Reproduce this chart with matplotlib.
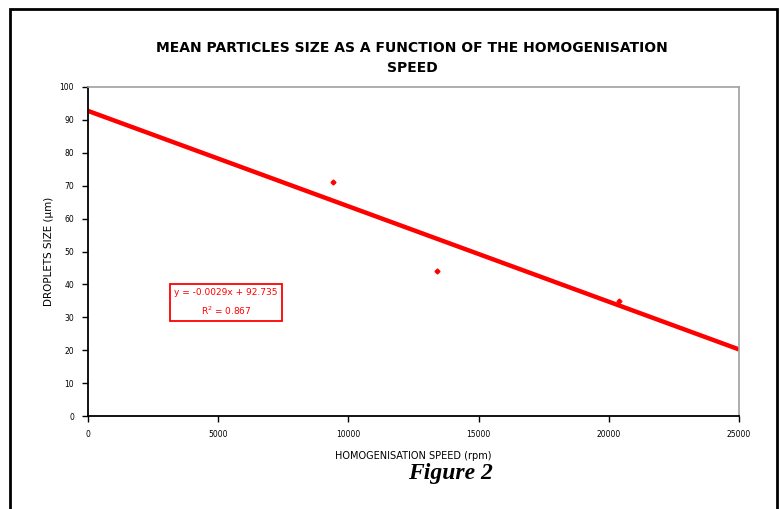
import matplotlib.pyplot as plt
from matplotlib.patches import Rectangle

# measured points (speed in rpm, droplet size in um)
speed = [9400, 13400, 20400]
droplet_size = [71.0, 44.0, 35.0]

# excel trendline as printed on the chart
slope = -0.0029
intercept = 92.735
r_squared = 0.867

x_ticks = [0, 5000, 10000, 15000, 20000, 25000]
y_ticks = [0, 10, 20, 30, 40, 50, 60, 70, 80, 90, 100]

fig = plt.figure(figsize=(7.8, 5.09), dpi=100)
ax = fig.add_axes([88 / 780, 1 - 416 / 509, (739 - 88) / 780, (416 - 87) / 509])

# trendline
trend_x = [x_ticks[0], x_ticks[-1]]
trend_y = [slope * v + intercept for v in trend_x]
ax.plot(trend_x, trend_y, color='red', linewidth=3.2, solid_capstyle='butt', zorder=2)
ax.plot(speed, droplet_size, linestyle='none', marker='D', markersize=2.5,
        color='red', zorder=3)

ax.set_xlim(0, 25000)
ax.set_ylim(0, 100)
ax.set_xticks(x_ticks)
ax.set_yticks(y_ticks)
ax.tick_params(direction='out', length=4, width=1, labelsize=5.5, pad=6)
for side in ['top', 'right']:
    ax.spines[side].set_color('#a0a0a0')
    ax.spines[side].set_linewidth(1.2)
for side in ['left', 'bottom']:
    ax.spines[side].set_color('black')
    ax.spines[side].set_linewidth(1.3)

ax.set_xlabel('HOMOGENISATION SPEED (rpm)', fontsize=7, labelpad=9)
ax.set_ylabel('DROPLETS SIZE (µm)', fontsize=7.5, labelpad=4)

fig.text(412 / 780, 1 - 58 / 509,
         'MEAN PARTICLES SIZE AS A FUNCTION OF THE HOMOGENISATION\nSPEED',
         ha='center', va='center', fontsize=10, fontweight='bold',
         linespacing=1.5)

ax.text(5300, 34.5, f'y = {slope}x + {intercept}\nR$^2$ = {r_squared}',
        ha='center', va='center', fontsize=6.5, color='red', linespacing=1.7,
        bbox=dict(boxstyle='square,pad=0.5', facecolor='white',
                  edgecolor='red', linewidth=1.3))

fig.text(450 / 780, 1 - 473 / 509, 'Figure 2', ha='center', va='center',
         fontsize=17, fontweight='bold', fontstyle='italic',
         family='Liberation Serif')

# outer frame of the figure
fig.patches.append(Rectangle((10 / 780, -0.02), (777 - 10) / 780, 1 - 9 / 509 + 0.02,
                             transform=fig.transFigure, fill=False,
                             edgecolor='black', linewidth=2))

fig.savefig('out.png', dpi=100)
